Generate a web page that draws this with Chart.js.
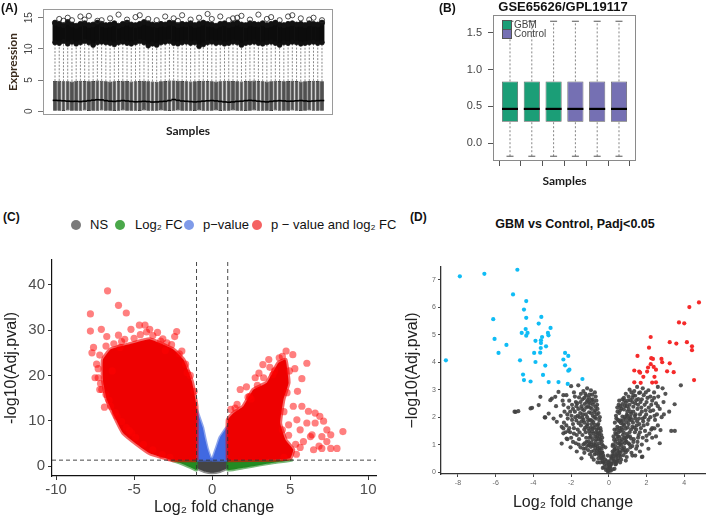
<!DOCTYPE html>
<html>
<head>
<meta charset="utf-8">
<script src="https://cdn.jsdelivr.net/npm/chart.js@4.4.1/dist/chart.umd.min.js"></script>
<style>
  body { margin: 0; background: #fff; }
  #wrap { position: relative; width: 709px; height: 517px; overflow: hidden; font-family: "Liberation Sans", Arial, sans-serif; }
  canvas { position: absolute; }
  .t { position: absolute; white-space: nowrap; color: #111; z-index: 2; }
  .pl { font-weight: bold; font-size: 12px; }
  .dot { position: absolute; width: 10px; height: 10px; border-radius: 50%; z-index: 2; }
  .sq { position: absolute; width: 8px; height: 8px; border: 1px solid #555; z-index: 2; }
</style>
</head>
<body>
<div id="wrap">
  <canvas id="chartA" width="360" height="200" style="left:0;top:0"></canvas>
  <canvas id="chartB" width="309" height="200" style="left:400px;top:0"></canvas>
  <canvas id="chartC" width="380" height="277" style="left:0;top:240px"></canvas>
  <canvas id="chartD" width="329" height="277" style="left:380px;top:240px"></canvas>

  <div class="t pl" style="left:1px;top:1px">(A)</div>
  <div class="t pl" style="left:439px;top:1px">(B)</div>
  <div class="t" style="left:563px;top:-1px;transform:translateX(-50%);font-weight:bold;font-size:13px">GSE65626/GPL19117</div>
  <div class="sq" style="left:502px;top:20px;background:#1b9e77"></div>
  <div class="t" style="left:514px;top:19px;font-size:10px;color:#444">GBM</div>
  <div class="sq" style="left:502px;top:29px;background:#7570b3"></div>
  <div class="t" style="left:514px;top:28px;font-size:10px;color:#444">Control</div>

  <div class="t pl" style="left:3px;top:210px">(C)</div>
  <div class="dot" style="left:71px;top:220px;background:#7a7a7a"></div>
  <div class="t" style="left:90px;top:217px;font-size:13px">NS</div>
  <div class="dot" style="left:115px;top:220px;background:#4aa84a"></div>
  <div class="t" style="left:135px;top:217px;font-size:13px">Log₂ FC</div>
  <div class="dot" style="left:184px;top:220px;background:#7f9be9"></div>
  <div class="t" style="left:203px;top:217px;font-size:13px">p−value</div>
  <div class="dot" style="left:252px;top:220px;background:#f56262"></div>
  <div class="t" style="left:271px;top:217px;font-size:13px">p − value and log₂ FC</div>

  <div class="t pl" style="left:410px;top:210px">(D)</div>
  <div class="t" style="left:575px;top:217px;transform:translateX(-50%);font-weight:bold;font-size:12.5px">GBM vs Control, Padj&lt;0.05</div>
</div>

<script>
// ---- (A) expression boxplots, 64 samples ----
const q1A = [0.08,0.1,0.06,0.12,0.1,0.08,0.1,0.12,0.06,0.1,0.08,0.12,0.1,0.08,0.06,0.1,
  0.12,0.1,0.08,0.1,0.06,0.12,0.1,0.08,0.1,0.12,0.08,0.06,0.1,0.12,0.1,0.08,
  0.1,0.06,0.12,0.1,0.08,0.1,0.12,0.06,0.1,0.08,0.12,0.1,0.08,0.06,0.1,0.12,
  0.1,0.08,0.1,0.06,0.12,0.1,0.08,0.1,0.12,0.08,0.06,0.1,0.12,0.1,0.08,0.1];
const medA = [1.75,1.72,1.68,1.62,1.58,1.6,1.55,1.62,1.7,1.78,1.85,1.82,1.7,1.62,1.58,1.65,
  1.72,1.65,1.58,1.52,1.55,1.6,1.55,1.48,1.5,1.56,1.6,1.72,1.88,1.75,1.65,1.6,
  1.55,1.5,1.55,1.62,1.68,1.72,1.66,1.58,1.5,1.45,1.5,1.58,1.62,1.7,1.75,1.7,
  1.62,1.55,1.5,1.58,1.65,1.7,1.66,1.6,1.62,1.68,1.72,1.66,1.6,1.65,1.7,1.72];
const q3A = [4.85,4.9,4.8,4.82,4.78,4.88,4.9,4.84,4.8,4.86,4.92,4.88,4.8,4.76,4.82,4.86,
  4.9,4.84,4.78,4.8,4.86,4.9,4.82,4.78,4.74,4.8,4.86,4.92,4.95,4.88,4.84,4.8,
  4.78,4.82,4.86,4.9,4.84,4.8,4.76,4.82,4.88,4.9,4.86,4.8,4.78,4.84,4.9,4.92,
  4.86,4.8,4.76,4.82,4.88,4.84,4.8,4.86,4.9,4.84,4.78,4.82,4.86,4.9,4.84,4.8];
const whiskerA = [11.5,11.4,11.6,11.3,11.5,11.2,11.4,11.6,11.5,11.3,11.4,11.6,11.5,11.4,11.2,11.5,
  11.6,11.4,11.3,11.5,11.6,11.4,11.5,11.3,11.1,11.4,11.5,11.6,11.4,11.3,11.5,11.6,
  11.4,11.5,11.3,11.2,11.5,11.6,11.4,11.5,11.3,11.4,11.6,11.5,11.2,11.4,11.5,11.6,
  11.4,11.3,11.5,11.6,11.4,11.2,11.5,11.4,11.6,11.5,11.3,11.4,11.5,11.6,11.4,11.5];
const outLoA = [11.0,10.9,11.2,10.8,11.1,10.8,11.0,11.2,11.0,10.6,11.0,11.1,11.0,10.9,10.7,11.0,
  11.1,10.9,10.8,11.0,11.2,11.0,10.5,10.8,10.6,11.0,11.1,11.2,10.9,10.8,11.0,11.1,
  10.9,11.0,10.4,10.7,11.0,11.1,10.9,11.0,10.8,10.9,11.1,11.0,10.6,10.9,11.0,11.1,
  10.9,10.8,11.0,11.1,10.9,10.6,11.0,10.9,11.1,11.0,10.8,10.9,11.0,11.1,10.9,11.0];
const outHiA = [14.2,14.0,13.8,14.3,13.9,13.7,14.0,14.1,13.8,13.9,14.2,14.0,13.8,13.9,14.1,13.7,
  14.0,14.2,13.9,13.8,14.0,14.3,14.1,13.9,13.8,14.0,13.9,14.2,14.1,13.8,14.0,13.9,
  14.1,13.8,14.0,14.2,14.0,13.9,13.7,14.0,14.1,13.8,14.0,14.2,13.9,13.8,14.1,14.0,
  13.9,14.1,13.8,14.0,14.2,13.9,13.8,14.0,14.1,13.9,14.0,13.8,14.1,14.0,13.9,14.2];
// sparse high outliers: [sample, value]
const topOutA = [[2,14.8],[3,14.5],[4,15.0],[5,14.6],[7,15.2],[8,14.7],[9,15.3],[11,14.5],[12,14.6],[14,14.9],
  [16,15.5],[18,14.7],[20,15.1],[21,15.4],[23,14.8],[25,14.6],[27,15.2],[29,14.9],[30,14.5],[31,15.4],
  [33,14.7],[35,15.0],[37,15.6],[38,14.8],[40,15.2],[42,14.6],[43,14.9],[44,15.0],[45,15.3],[47,14.7],
  [49,15.5],[51,14.8],[52,15.1],[54,14.6],[56,15.2],[57,15.4],[59,14.9],[61,14.7],[62,15.0],[64,14.6]];
const yTicksA = [0, 5, 10, 15];

// ---- (B) normalised boxplots ----
const groupB = ['GBM','GBM','GBM','Control','Control','Control'];
const loB  = [-0.18,-0.18,-0.18,-0.18,-0.18,-0.18];
const q1B  = [0.29,0.29,0.29,0.29,0.29,0.29];
const medB = [0.465,0.465,0.465,0.465,0.465,0.465];
const q3B  = [0.84,0.84,0.84,0.84,0.84,0.84];
const hiB  = [1.66,1.66,1.66,1.66,1.66,1.66];
const yTicksB = [0, 0.5, 1.0, 1.5];

// ---- (C) volcano, dense regions as outlines + scattered points ----
const nsC = [[-1,1.3],[1,1.3],[1,-0.4],[0.5,-1.2],[0,-1.5],[-0.5,-1.2],[-1,-0.4],[-1,1.3]];
const fcLeftC = [[-1,1.3],[-2.6,1.3],[-2.1,0.7],[-1.6,0.0],[-1.2,-0.6],[-1,-0.9],[-1,1.3]];
const fcRightC = [[1,1.3],[5.1,1.3],[4.0,0.8],[3.0,0.2],[2.0,-0.4],[1,-0.9],[1,1.3]];
const pLeftC = [[-1,1.3],[-1,12.4],[-0.85,11],[-0.6,8.5],[-0.45,6],[-0.3,3.8],[-0.12,2],[0,1.3],[-1,1.3]];
const pRightC = [[0,1.3],[0.3,4.3],[0.5,6.3],[0.75,7.6],[1,8.7],[1,1.3],[0,1.3]];
const bothLeftC = [[-1.0,1.3],[-1.0,13.2],[-1.3,18.7],[-1.84,23.5],[-2.5,25.8],[-4.0,28],[-5.3,26.9],
  [-6.5,25.8],[-7.0,23.5],[-7.0,19],[-6.75,14.7],[-5.7,7.3],[-4.0,2.8],[-2.5,1.3],[-1.0,1.3]];
const bothRightC = [[1.0,1.3],[1.0,10.2],[1.37,11.7],[2.0,13.2],[2.65,16.9],[3.5,18.4],[4.25,22.8],
  [4.7,23.5],[4.9,18.4],[4.57,14.7],[4.36,9.5],[4.7,5.8],[5.2,3.6],[5.0,1.7],[4.0,1.4],[1.0,1.3]];
const bothPtsC = [[-7.8,33.6],[-6.7,38.7],[-6.0,35.5],[-5.5,33.8],[-7.8,29.8],[-7.1,30.2],[-7.6,26.2],[-7.7,25],
  [-6.75,28.6],[-4.66,31.1],[-4.3,31.1],[-4.0,30.2],[-5.2,30.2],[-2.27,29.7],[-2.4,28.6],[-3.16,28.1],
  [-6.0,28.9],[-7.3,19.5],[-7.5,19.5],[-7.07,16.9],[-6.9,13.0],[-7.2,16.9],[-5.15,7.3],[-6.1,11],
  [-1.6,20.6],[-1.94,25.4],[-5.8,27.5],[-3.5,29.5],[-2.9,27.2],[-7.4,22.5],[-6.6,14.5],[-5.5,8.5],
  [-6.8,26.5],[-6.3,27.0],[-5.9,26.2],[-5.0,28.2],[-4.6,29.0],[-3.8,28.8],[-3.3,27.6],[-2.6,26.8],
  [-2.1,24.8],[-1.7,22.5],[-1.4,20.0],[-1.15,16.5],[-7.2,24.5],[-7.3,21.5],[-7.15,18.2],[-6.8,15.8],
  [-6.5,13.2],[-6.2,11.8],[-5.8,9.8],[-5.3,7.8],[-4.9,6.3],[-4.4,4.8],[-3.8,3.6],[-3.2,2.5],[-2.7,1.9],
  [-6.4,21.0],[-4.2,29.6],[-5.6,28.0],[-3.0,25.5],
  [4.74,25.4],[5.17,24.6],[4.3,23.9],[3.63,23.5],[3.25,22.4],[6.07,22.7],[5.75,19.3],[5.47,16.5],
  [2.76,19.5],[1.8,16.9],[1.47,12.8],[2.4,15.4],[5.75,13.2],[6.17,12.1],[6.6,11.7],[6.9,11.0],
  [7.14,9.9],[7.35,8.0],[8.38,7.6],[7.6,6.9],[7.03,6.5],[6.4,6.9],[6.07,9.5],[6.6,9.5],[5.64,8.0],
  [7.35,5.4],[8.0,3.9],[7.6,3.9],[7.03,3.9],[6.5,3.6],[5.64,4.1],[5.85,5.4],[5.43,10.2],[4.9,9.1],
  [5.2,13.2],[6.3,6.5],[6.85,4.4],[3.0,20.5],[4.0,21.0],[5.3,21.5],[2.2,17.5],
  [1.2,12.5],[1.6,13.6],[2.3,15.2],[2.9,17.8],[3.3,19.5],[3.9,20.2],[4.5,24.2],[4.95,21.0],[4.8,16.2],
  [4.6,12.0],[4.5,8.0],[4.9,6.8],[5.35,4.8],[5.4,2.6],[4.6,1.9],[2.5,14.8],[3.7,21.8]];
const xTicksC = [-10, -5, 0, 5, 10];
const yTicksC = [0, 10, 20, 30, 40];

// ---- (D) volcano, GBM vs Control ----
const downD = [[-7.9,7.13],[-6.6,7.22],[-4.85,7.37],[-5.08,6.47],[-4.38,6.23],[-4.5,5.92],[-6.13,5.57],
  [-4.38,5.62],[-3.58,5.65],[-3.72,5.41],[-4.41,5.21],[-3.09,5.25],[-4.31,5.07],[-4.62,5.07],[-4.38,4.97],
  [-3.23,5.07],[-3.2,4.98],[-3.54,4.92],[-6.06,4.85],[-3.89,4.78],[-3.6,4.8],[-5.43,4.63],[-3.6,4.7],
  [-3.33,4.58],[-3.61,4.52],[-5.85,4.34],[-3.96,4.34],[-3.64,4.35],[-2.32,4.34],[-2.15,4.23],[-8.64,4.07],
  [-4.71,4.07],[-3.89,4.01],[-2.41,4.1],[-2.32,3.89],[-3.37,3.88],[-2.09,3.73],[-2.15,3.69],[-4.55,3.55],
  [-3.49,3.54],[-4.5,3.35],[-4.15,3.3],[-3.19,3.28],[-2.67,3.28],[-2.18,3.21],[-1.4,3.39]];
const upD = [[4.78,6.18],[4.27,6.01],[3.72,5.45],[4.0,5.42],[2.22,4.92],[3.23,4.73],[4.14,4.73],[3.58,4.68],
  [4.41,4.58],[4.41,4.44],[2.13,4.53],[1.52,4.23],[2.25,4.15],[2.34,4.12],[2.83,4.0],[3.23,3.96],[2.22,3.93],
  [2.08,3.81],[2.38,3.83],[1.35,3.7],[1.61,3.66],[2.03,3.66],[2.5,3.73],[3.09,3.67],[3.44,3.64],[1.66,3.62],
  [1.83,3.47],[2.42,3.47],[1.35,3.27],[1.69,3.25],[2.3,3.26],[2.5,3.27],[4.52,3.35],[2.79,4.12]];
const nsD = [
  [-0.05,0.02],[0.1,0.05],[-0.15,0.08],[0.2,0.1],[0.02,0.15],[-0.25,0.18],[0.3,0.12],[-0.1,0.25],[0.15,0.3],
  [0.35,0.28],[-0.3,0.35],[0.05,0.4],[-0.2,0.45],[0.25,0.48],[0.45,0.42],[-0.4,0.5],[0.12,0.55],[-0.05,0.6],
  [0.4,0.62],[-0.35,0.7],[0.55,0.75],[-0.5,0.8],[0.3,0.82],[-0.18,0.9],[0.2,0.95],[-0.08,0.12],[0.08,0.22],
  [0.0,0.05],[-0.32,0.15],[0.38,0.3],
  [-0.28,0.55],[-0.35,0.72],[-0.42,0.6],[-0.55,0.5],[-0.3,0.95],[-0.48,0.88],[-0.62,0.78],[-0.75,0.65],
  [-0.9,0.55],[-0.38,1.12],[-0.52,1.05],[-0.66,1.2],[-0.8,1.0],[-0.95,0.92],[-1.1,0.8],[-1.3,0.7],[-0.4,1.35],
  [-0.58,1.42],[-0.72,1.3],[-0.88,1.48],[-1.02,1.25],[-1.18,1.1],[-1.35,1.0],[-1.5,0.9],[-0.45,1.6],[-0.6,1.7],
  [-0.78,1.62],[-0.92,1.75],[-1.08,1.58],[-1.22,1.45],[-1.4,1.35],[-1.58,1.2],[-1.75,1.05],[-0.5,1.88],
  [-0.68,1.95],[-0.85,2.05],[-1.0,1.9],[-1.15,2.0],[-1.3,1.8],[-1.48,1.7],[-1.65,1.55],[-1.85,1.4],[-2.0,1.25],
  [-0.55,2.15],[-0.72,2.25],[-0.9,2.3],[-1.05,2.18],[-1.2,2.35],[-1.38,2.1],[-1.55,2.0],[-1.72,1.88],[-1.9,1.75],
  [-2.1,1.6],[-2.3,1.45],[-0.62,2.45],[-0.8,2.55],[-0.98,2.5],[-1.12,2.62],[-1.28,2.48],[-1.45,2.4],[-1.62,2.3],
  [-1.8,2.2],[-1.98,2.05],[-2.18,1.95],[-2.38,1.8],[-0.7,2.75],[-0.88,2.82],[-1.05,2.7],[-1.25,2.85],[-1.4,2.65],
  [-1.58,2.72],[-1.75,2.55],[-1.95,2.45],[-2.15,2.35],[-2.35,2.2],[-2.55,2.05],[-0.95,2.98],[-1.15,3.05],
  [-1.35,2.95],[-1.62,3.16],[-1.85,2.9],[-2.0,3.13],[-2.25,2.8],[-2.45,2.6],[-2.67,2.92],[-2.8,2.4],[-3.02,2.68],
  [-3.4,1.99],[-3.63,2.74],[-3.72,2.44],[-4.15,2.32],[-4.8,2.22],[-5.0,2.2],[-2.5,1.65],[-2.41,1.41],[-2.5,1.04],
  [-2.03,0.9],[-1.06,0.98],[-1.7,0.75],[-2.2,1.2],[-0.33,0.4],[-0.46,0.35],[-1.45,0.5],
  [-0.35,1.25],[-0.5,1.3],[-0.42,1.5],[-0.65,1.55],[-0.82,1.82],[-0.95,1.62],[-1.12,1.75],[-1.25,1.62],
  [-0.75,2.0],[-0.6,2.3],[-0.95,2.15],[-1.1,2.4],[-1.32,2.25],[-0.85,2.65],[-1.2,2.78],[-1.5,2.55],[-0.7,1.1],
  [-0.85,1.2],[-0.6,0.95],[-1.0,1.4],[-1.3,1.55],[-1.55,1.45],[-1.7,1.35],[-1.85,1.6],[-2.05,1.45],[-1.45,1.85],
  [-1.65,2.05],[-1.4,1.98],[-2.2,2.1],[-1.9,2.3],[-1.68,2.5],[-1.8,2.75],[-2.1,2.6],[-2.4,2.45],[-0.5,0.7],
  [-0.72,0.88],[-0.92,0.75],[-1.15,0.95],[-1.25,0.85],[-0.38,0.85],[-0.55,1.2],
  [-4.94,2.19],[-4.07,2.34],[-3.19,2.13],[-3.37,1.99],[-2.93,1.95],[-3.1,2.62],[-2.84,2.74],[-2.41,2.8],
  [-2.24,1.22],[-2.41,1.59],[-2.15,1.5],[-2.76,1.83],
  [-0.3,0.62],[-0.36,0.5],[-0.44,0.72],[-0.52,0.62],[-0.58,0.85],[-0.66,0.68],[-0.7,0.98],[-0.78,0.78],
  [-0.84,0.95],[-0.92,1.08],[-1.0,1.02],[-1.08,1.12],[-1.2,1.25],[-1.28,1.05],[-0.36,1.0],[-0.44,1.18],
  [-0.5,1.42],[-0.56,1.58],[-0.62,1.32],[-0.68,1.45],[-0.74,1.72],[-0.8,1.4],[-0.86,1.58],[-0.9,1.88],
  [-0.96,1.3],[-1.04,1.5],[-1.1,1.88],[-1.16,1.68],[-1.22,2.1],[-1.34,1.9],[-1.42,2.3],[-1.52,2.15],
  [-1.6,1.78],[-0.48,2.0],[-0.56,1.75],[-0.64,2.1],[-0.7,2.38],[-0.78,2.18],[-0.84,2.45],[-0.92,2.62],
  [-1.0,2.35],[-1.06,2.55],[-0.66,2.6],[-0.74,2.9],[-1.02,2.82],[-1.18,2.55],[-1.3,2.7],[-1.48,2.85],
  [-1.72,2.4],[-1.78,2.0],[-1.95,1.9],[-2.05,2.2],[-2.25,1.7],[-1.6,1.0],[-1.9,1.1],[-1.35,0.85],[-1.0,0.65],
  [-0.8,0.45],[-0.6,0.35],[-0.22,0.3],
  [0.15,0.5],[0.25,0.6],[0.38,0.55],[0.5,0.5],[0.65,0.45],[0.2,0.75],[0.32,0.85],[0.45,0.78],[0.6,0.7],
  [0.78,0.62],[0.95,0.55],[0.22,1.0],[0.35,1.1],[0.5,1.05],[0.65,0.98],[0.8,0.9],[1.0,0.8],[1.2,0.7],[1.4,0.6],
  [0.25,1.3],[0.4,1.38],[0.55,1.28],[0.7,1.2],[0.88,1.15],[1.05,1.05],[1.25,0.95],[1.45,0.85],[1.65,0.75],
  [0.3,1.55],[0.45,1.65],[0.6,1.5],[0.78,1.45],[0.95,1.38],[1.12,1.3],[1.32,1.2],[1.52,1.1],[1.75,1.0],
  [0.32,1.8],[0.48,1.9],[0.65,1.78],[0.82,1.7],[1.0,1.62],[1.18,1.55],[1.38,1.45],[1.58,1.35],[1.8,1.25],
  [2.0,1.15],[0.38,2.05],[0.55,2.15],[0.72,2.02],[0.9,1.95],[1.08,1.88],[1.28,1.8],[1.48,1.7],[1.7,1.6],
  [1.92,1.5],[2.15,1.4],[0.45,2.35],[0.62,2.4],[0.8,2.28],[0.98,2.2],[1.18,2.12],[1.38,2.05],[1.6,1.95],
  [1.82,1.85],[2.05,1.75],[2.3,1.6],[0.55,2.6],[0.72,2.65],[0.9,2.52],[1.1,2.45],[1.3,2.38],[1.52,2.3],
  [1.75,2.2],[1.98,2.1],[2.2,2.0],[2.45,1.9],[0.9,2.85],[1.05,2.75],[1.25,2.7],[1.45,2.62],[1.68,2.55],
  [1.9,2.45],[2.12,2.35],[2.35,2.25],[2.55,2.1],[1.1,3.0],[1.35,2.95],[1.6,2.88],[1.85,2.8],[2.05,2.7],
  [2.3,2.6],[2.5,2.5],[2.7,2.3],[1.5,3.1],[1.8,3.05],[2.1,2.98],[2.4,2.9],[2.62,2.75],[2.85,3.05],[3.0,2.85],
  [2.6,3.1],[2.9,2.55],[3.2,2.2],[3.5,1.5],[2.7,1.05],[2.5,1.3],[2.1,0.85],[1.75,0.55],[3.82,3.16],[3.49,2.47],
  [2.92,2.1],[2.42,1.59],[2.74,1.53],[3.31,1.5],[1.78,0.56],
  [0.3,0.4],[0.42,0.38],[0.55,0.62],[0.7,0.85],[0.85,1.05],[0.42,1.2],[0.58,1.15],[0.75,1.35],[0.92,1.25],
  [1.1,1.45],[0.52,1.45],[0.68,1.62],[0.88,1.58],[1.05,1.75],[1.25,1.65],[0.55,1.85],[0.75,1.88],[0.95,2.08],
  [1.15,2.0],[1.4,1.95],[0.6,2.25],[0.85,2.4],[1.05,2.3],[1.25,2.55],[1.55,2.45],[1.75,2.65],[0.8,2.7],
  [1.0,2.6],[1.2,2.9],[1.4,2.78],[2.0,2.55],[2.25,2.45],[1.65,2.1],[1.9,2.0],[2.1,1.9],[1.45,1.55],[1.65,1.45],
  [1.85,1.7],[1.3,1.1],[1.55,1.25],[1.15,0.9],[0.9,0.72],[2.3,1.25],[2.6,1.7],[2.8,2.0],
  [0.18,0.62],[0.28,0.72],[0.36,0.95],[0.44,0.66],[0.52,0.88],[0.58,1.02],[0.62,0.58],[0.7,1.08],[0.74,0.78],
  [0.82,1.25],[0.86,0.8],[0.94,1.1],[1.02,1.3],[1.1,1.0],[1.18,1.22],[0.28,1.18],[0.34,1.42],[0.42,1.55],
  [0.48,1.3],[0.56,1.6],[0.62,1.88],[0.7,1.55],[0.76,1.75],[0.84,2.0],[0.92,1.82],[1.0,2.05],[1.08,1.95],
  [1.16,2.2],[1.22,1.9],[1.3,2.2],[1.36,1.62],[1.42,2.1],[1.5,1.85],[1.62,1.75],[1.72,2.35],[1.8,1.95],
  [1.95,2.25],[0.4,1.95],[0.46,2.2],[0.52,2.45],[0.66,2.32],[0.72,2.48],[0.82,2.6],[0.96,2.4],[1.14,2.62],
  [1.3,2.8],[1.4,2.5],[1.56,2.66],[1.66,2.9],[1.96,2.9],[2.2,2.75],[2.4,2.7],[2.2,2.22],[2.42,2.05],[2.6,2.4],
  [2.0,1.32],[2.25,1.55],[1.5,0.95],[1.25,0.6],[0.9,0.42],[0.6,0.35],[0.25,0.38],[0.12,0.3],[-0.12,0.4],
  [0.0,0.28],[0.05,0.18],[-0.02,0.35]];
const xTicksD = [-8, -6, -4, -2, 0, 2, 4];
const yTicksD = [0, 1, 2, 3, 4, 5, 6, 7];

// frame around plot area (R style box)
const frame = {
  id: 'frame',
  afterDraw(chart, args, opts) {
    if (!opts.color) return;
    const a = chart.chartArea, ctx = chart.ctx;
    ctx.save();
    ctx.strokeStyle = opts.color;
    ctx.lineWidth = 1;
    ctx.strokeRect(a.left + 0.5, a.top + 0.5, a.width - 1, a.height - 1);
    ctx.restore();
  }
};
Chart.register(frame);

const pts = arr => arr.map(p => ({ x: p[0], y: p[1] }));
const fixTicks = list => s => { s.ticks = list.map(v => ({ value: v })); };

// (A)
const whiskA = [];
q3A.forEach((v, i) => { whiskA.push({ x: i + 1, y: v }, { x: i + 1, y: whiskerA[i] }, { x: i + 1, y: null }); });
new Chart(document.getElementById('chartA'), {
  type: 'bar',
  data: {
    datasets: [
      { type: 'scatter', data: medA.map((v, i) => ({ x: i + 1, y: v })), pointStyle: 'line', pointRadius: 2.3,
        borderColor: '#000', borderWidth: 1.6, order: 0 },
      { type: 'scatter', data: pts(topOutA), pointRadius: 2.6, borderColor: '#222', backgroundColor: 'rgba(0,0,0,0)',
        borderWidth: 0.8, order: 1 },
      { type: 'scatter', data: outHiA.map((v, i) => ({ x: i + 1, y: v })), pointRadius: 2.6, borderColor: '#111',
        backgroundColor: '#111', borderWidth: 0.8, order: 2 },
      { type: 'scatter', data: outLoA.map((v, i) => ({ x: i + 1, y: v })), pointRadius: 2.4, borderColor: '#111',
        backgroundColor: '#111', borderWidth: 0.6, order: 2 },
      { type: 'bar', data: outLoA.map((v, i) => ({ x: i + 1, y: [v, outHiA[i]] })), backgroundColor: '#0c0c0c',
        grouped: false, barPercentage: 1, categoryPercentage: 1, order: 3 },
      { type: 'bar', data: q1A.map((v, i) => ({ x: i + 1, y: [v, q3A[i]] })), backgroundColor: '#505050',
        borderColor: '#1a1a1a', borderWidth: 0.7, borderSkipped: false, grouped: false,
        barPercentage: 0.9, categoryPercentage: 1, order: 4 },
      { type: 'scatter', showLine: true, spanGaps: false, data: whiskA, pointRadius: 0, borderColor: '#555',
        borderWidth: 0.7, borderDash: [2, 1.5], order: 5 }
    ]
  },
  options: {
    responsive: false, animation: false, devicePixelRatio: 1,
    layout: { padding: { top: 7, right: 27, left: 0, bottom: 0 } },
    plugins: { legend: { display: false }, tooltip: { enabled: false }, frame: { color: '#9a9a9a' } },
    scales: {
      x: { type: 'linear', offset: false, min: -1.83, max: 66.6, grid: { display: false }, border: { display: false },
        ticks: { display: false }, afterFit: s => { s.height = 85; },
        title: { display: true, text: 'Samples', color: '#1a1a1a', font: { family: 'Lato', weight: 'bold', size: 12 },
          padding: { bottom: 62 } } },
      y: { min: -0.6, max: 16.4, afterBuildTicks: fixTicks(yTicksA),
        ticks: { minRotation: 90, maxRotation: 90, crossAlign: 'center', padding: 3, color: '#444',
          font: { size: 10 } },
        grid: { drawOnChartArea: false, tickLength: 5, tickColor: '#777' }, border: { display: false },
        afterFit: s => { s.width = 43; },
        title: { display: true, text: 'Expression', color: '#3b2c1e', font: { family: 'Lato', weight: 'bold', size: 12 },
          padding: { top: 6 } } }
    }
  }
});

// (B)
const boxesB = (g) => q1B.map((v, i) => ({ x: i + 1, y: [v, q3B[i]] })).filter((d, i) => groupB[i] === g);
const whiskB = [];
q1B.forEach((v, i) => {
  whiskB.push({ x: i + 1, y: loB[i] }, { x: i + 1, y: v }, { x: i + 1, y: null },
    { x: i + 1, y: q3B[i] }, { x: i + 1, y: hiB[i] }, { x: i + 1, y: null });
});
new Chart(document.getElementById('chartB'), {
  type: 'bar',
  data: {
    datasets: [
      { type: 'scatter', data: medB.map((v, i) => ({ x: i + 1, y: v })), pointStyle: 'line', pointRadius: 8,
        borderColor: '#000', borderWidth: 2.2, order: 0 },
      { type: 'scatter', data: loB.map((v, i) => ({ x: i + 1, y: v })).concat(hiB.map((v, i) => ({ x: i + 1, y: v }))),
        pointStyle: 'line', pointRadius: 3.5, borderColor: '#555', borderWidth: 1, order: 1 },
      { type: 'bar', label: 'GBM', data: boxesB('GBM'), backgroundColor: '#1b9e77', borderColor: '#555',
        borderWidth: 0.8, borderSkipped: false, grouped: false, barPercentage: 0.74, categoryPercentage: 1, order: 2 },
      { type: 'bar', label: 'Control', data: boxesB('Control'), backgroundColor: '#7570b3', borderColor: '#555',
        borderWidth: 0.8, borderSkipped: false, grouped: false, barPercentage: 0.74, categoryPercentage: 1, order: 2 },
      { type: 'scatter', showLine: true, spanGaps: false, data: whiskB, pointRadius: 0, borderColor: '#777',
        borderWidth: 0.9, borderDash: [2, 2], order: 3 }
    ]
  },
  options: {
    responsive: false, animation: false, devicePixelRatio: 1,
    layout: { padding: { top: 15, right: 73, left: 0, bottom: 0 } },
    plugins: { legend: { display: false }, tooltip: { enabled: false }, frame: { color: '#8a8a8a' } },
    scales: {
      x: { type: 'linear', offset: false, min: 0.22, max: 6.78, afterBuildTicks: fixTicks([1, 2, 3, 4, 5, 6]),
        ticks: { callback: () => '' }, grid: { drawOnChartArea: false, tickLength: 5, tickColor: '#555' },
        border: { display: false }, afterFit: s => { s.height = 39; },
        title: { display: true, text: 'Samples', color: '#1a1a1a', font: { family: 'Lato', weight: 'bold', size: 12 },
          padding: { bottom: 12 } } },
      y: { min: -0.245, max: 1.745, afterBuildTicks: fixTicks(yTicksB),
        ticks: { callback: v => v.toFixed(1), padding: 6, color: '#444', font: { size: 11 } },
        grid: { drawOnChartArea: false, tickLength: 5, tickColor: '#555' }, border: { display: false },
        afterFit: s => { s.width = 93; } }
    }
  }
});

// (C)
const shapeC = (d, fill, edge, w, order) => ({ type: 'scatter', showLine: true, data: pts(d), fill: 'shape',
  backgroundColor: fill, borderColor: edge, borderWidth: w, pointRadius: 0, tension: 0.12, order });
const refLine = (d) => ({ type: 'scatter', showLine: true, data: pts(d), borderColor: '#333', borderWidth: 0.9,
  borderDash: [4, 3], pointRadius: 0, order: 0 });
new Chart(document.getElementById('chartC'), {
  type: 'scatter',
  data: {
    datasets: [
      refLine([[-1, -2.2], [-1, 45.5]]),
      refLine([[1, -2.2], [1, 45.5]]),
      refLine([[-10.26, 1.3], [10.5, 1.3]]),
      { data: pts(bothPtsC), pointRadius: 3.6, backgroundColor: 'rgba(255,0,0,0.5)', borderWidth: 0, order: 1 },
      shapeC(bothLeftC, '#ee0000', 'rgba(240,0,0,0.6)', 4, 2),
      shapeC(bothRightC, '#ee0000', 'rgba(240,0,0,0.6)', 4, 2),
      shapeC(pLeftC, '#4169e1', 'rgba(65,105,225,0.6)', 3, 3),
      shapeC(pRightC, '#4169e1', 'rgba(65,105,225,0.6)', 3, 3),
      shapeC(fcLeftC, '#228b22', 'rgba(34,139,34,0.6)', 3, 4),
      shapeC(fcRightC, '#228b22', 'rgba(34,139,34,0.6)', 3, 4),
      shapeC(nsC, '#444444', 'rgba(68,68,68,0.6)', 3, 5)
    ]
  },
  options: {
    responsive: false, animation: false, devicePixelRatio: 1,
    layout: { padding: { top: 20, right: 4, left: 0, bottom: 0 } },
    plugins: { legend: { display: false }, tooltip: { enabled: false } },
    scales: {
      x: { type: 'linear', min: -10.26, max: 10.5, afterBuildTicks: fixTicks(xTicksC),
        ticks: { color: '#4d4d4d', padding: 1, font: { size: 15 } },
        grid: { drawOnChartArea: false, tickLength: 4, tickColor: '#333' }, border: { color: '#111', width: 1.2 },
        afterFit: s => { s.height = 41; },
        title: { display: true, text: 'Log₂ fold change', color: '#222', font: { size: 16 }, padding: { bottom: 0 } } },
      y: { min: -2.2, max: 45.5, afterBuildTicks: fixTicks(yTicksC),
        ticks: { color: '#4d4d4d', padding: 3, font: { size: 15 } },
        grid: { drawOnChartArea: false, tickLength: 4, tickColor: '#333' }, border: { color: '#111', width: 1.2 },
        afterFit: s => { s.width = 52; },
        title: { display: true, text: '-log10(Adj.pval)', color: '#222', font: { size: 16 }, padding: { top: 2 } } }
    }
  }
});

// (D)
new Chart(document.getElementById('chartD'), {
  type: 'scatter',
  data: {
    datasets: [
      { data: pts(downD), pointRadius: 2.1, backgroundColor: '#0fbcf5', borderWidth: 0, order: 0 },
      { data: pts(upD), pointRadius: 2.1, backgroundColor: '#f52a2a', borderWidth: 0, order: 0 },
      { data: pts(nsD), pointRadius: 2.1, backgroundColor: 'rgba(64,64,64,0.9)', borderWidth: 0, order: 1 }
    ]
  },
  options: {
    responsive: false, animation: false, devicePixelRatio: 1,
    layout: { padding: { top: 27, right: 1, left: 0, bottom: 0 } },
    plugins: { legend: { display: false }, tooltip: { enabled: false } },
    scales: {
      x: { type: 'linear', min: -8.9, max: 5.1, afterBuildTicks: fixTicks(xTicksD),
        ticks: { color: '#666', padding: 2, font: { size: 7 } },
        grid: { drawOnChartArea: false, tickLength: 3, tickColor: '#444' }, border: { color: '#333', width: 1.3 },
        afterFit: s => { s.height = 43; },
        title: { display: true, text: 'Log₂ fold change', color: '#222', font: { size: 16 }, padding: { bottom: 5 } } },
      y: { min: -0.07, max: 7.47, afterBuildTicks: fixTicks(yTicksD),
        ticks: { color: '#666', padding: 2, font: { size: 7 } },
        grid: { drawOnChartArea: false, tickLength: 3, tickColor: '#444' }, border: { color: '#333', width: 1.3 },
        afterFit: s => { s.width = 61; },
        title: { display: true, text: '−log10(Adj.pval)', color: '#222', font: { size: 16 }, padding: { top: 23 } } }
    }
  }
});
</script>
</body>
</html>
